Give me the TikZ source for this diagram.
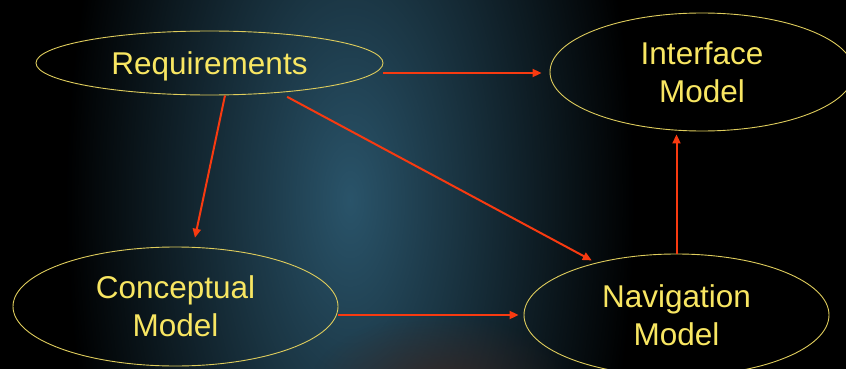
\documentclass[tikz,border=0pt]{standalone}
\usepackage{fontspec}
\setmainfont{Liberation Sans}
\usetikzlibrary{shapes.geometric,arrows.meta,fadings}

\definecolor{bgteal}{RGB}{42,84,106}
\definecolor{bgember}{RGB}{62,38,32}
\definecolor{labelyellow}{RGB}{248,230,98}
\definecolor{rimyellow}{RGB}{222,204,92}
\definecolor{flowred}{RGB}{248,58,16}

% radial fade: opaque centre, clear rim
\tikzfading[name=glowfade, inner color=transparent!0, outer color=transparent!100]

\begin{document}
\begin{tikzpicture}[x=1pt,y=-1pt,
  model/.style={ellipse, draw=rimyellow, line width=0.9pt, inner sep=0pt,
    text=labelyellow, align=center, text depth=0pt,
    font=\fontsize{31.5}{38}\selectfont},
  flow/.style={draw=flowred, line width=2pt,
    -{Triangle[length=9pt,width=8pt]}}]

% backdrop: dark slide with a tall teal glow and a faint warm glow at the bottom
\clip (0,0) rectangle (846,369);
\fill[black] (0,0) rectangle (846,369);
\fill[bgteal, path fading=glowfade] (350,200) ellipse [x radius=285pt, y radius=600pt];
\fill[bgember, path fading=glowfade, fill opacity=0.7] (440,385) ellipse [x radius=130pt, y radius=70pt];

% models
\node[model, minimum width=347pt, minimum height=64pt]  (req) at (209.5,63)  {Requirements};
\node[model, minimum width=304pt, minimum height=118pt] (int) at (702,72)    {Interface\\Model};
\node[model, minimum width=325pt, minimum height=119pt] (con) at (175.5,306.5) {Conceptual\\Model};
\node[model, minimum width=305pt, minimum height=122pt] (nav) at (676.5,315) {Navigation\\Model};

% dependencies
\coordinate (r1) at ([yshift=-10pt]req.east);
\draw[flow, shorten >=8pt] (r1) -- (r1 -| int.west);
\draw[flow, shorten >=9pt] ([xshift=15.5pt]req.south) -- ([xshift=17.6pt]con.north);
\draw[flow, shorten <=8.7pt, shorten >=4.9pt] (req.-23.4) -- (nav.147.5);
\draw[flow, shorten >=5pt] (con.east |- nav.west) -- (nav.west);
\draw[flow, shorten >=3pt] (nav.north) -- (nav.north |- int.south);
\end{tikzpicture}
\end{document}
